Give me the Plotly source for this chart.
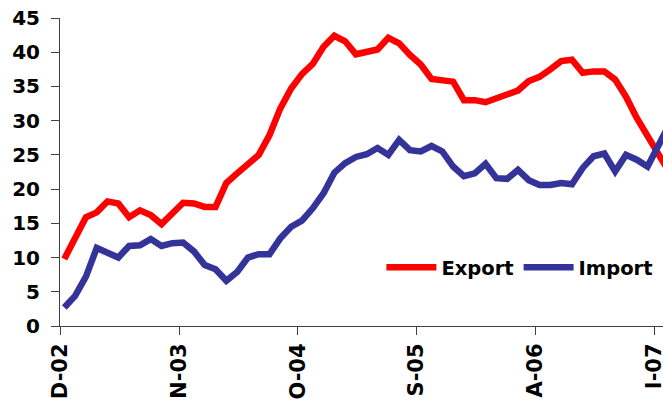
import plotly.graph_objects as go

# Monthly series, Dec 2002 onward
month_index = list(range(57))
export_vals = [9.8, 12.8, 15.9, 16.6, 18.2, 17.9, 15.9, 16.9, 16.2, 14.9,
               16.6, 18.0, 17.9, 17.4, 17.4, 20.9, 22.3, 23.8, 25.0, 27.9,
               31.8, 34.7, 36.8, 38.3, 40.8, 42.4, 41.6, 39.7, 40.0, 40.4,
               42.1, 41.3, 39.6, 38.2, 36.1, 36.0, 35.7, 33.0, 33.0, 32.7,
               33.3, 34.0, 34.4, 35.8, 36.4, 37.5, 38.7, 38.9, 37.0, 37.2,
               37.2, 36.0, 33.5, 30.4, 27.9, 25.0, 22.5]
import_vals = [2.7, 4.4, 7.2, 11.4, 10.7, 10.0, 11.7, 11.8, 12.7, 11.7,
               12.1, 12.2, 10.9, 8.9, 8.3, 6.6, 7.9, 10.0, 10.5, 10.5,
               12.8, 14.5, 15.4, 17.2, 19.4, 22.4, 23.8, 24.7, 25.1, 26.0,
               25.0, 27.2, 25.7, 25.5, 26.3, 25.5, 23.3, 21.9, 22.3, 23.7,
               21.6, 21.5, 22.8, 21.3, 20.6, 20.6, 20.9, 20.7, 23.1, 24.8,
               25.2, 22.6, 25.0, 24.3, 23.3, 26.4, 29.4]
tick_months = [0, 11, 22, 33, 44, 55]
tick_labels = ["D-02", "N-03", "O-04", "S-05", "A-06", "I-07"]
y_ticks = [0, 5, 10, 15, 20, 25, 30, 35, 40, 45]

TICK_SHIFT = -0.38  # ticks sit at category boundaries
FONT = "DejaVu Sans"

fig = go.Figure()
fig.add_trace(go.Scatter(x=month_index, y=export_vals, name="Export", mode="lines",
                         line=dict(color="#FF0000", width=6.5)))
fig.add_trace(go.Scatter(x=month_index, y=import_vals, name="Import", mode="lines",
                         line=dict(color="#333399", width=6.5)))

fig.update_layout(
    width=663, height=402,
    margin=dict(l=60, r=0, t=18, b=76, autoexpand=False),
    plot_bgcolor="white", paper_bgcolor="white",
    font=dict(family=FONT, color="black"),
    showlegend=True,
    legend=dict(orientation="h", x=0.533, y=0.19, xanchor="left", yanchor="middle",
                font=dict(family=FONT, size=19.5, color="black", weight="bold"),
                itemwidth=50, bgcolor="rgba(0,0,0,0)"),
    xaxis=dict(range=[-0.4, 55.43], tickmode="array",
               tickvals=[m + TICK_SHIFT for m in tick_months], ticktext=tick_labels,
               tickangle=-90, ticks="outside", ticklen=8, tickcolor="#404040",
               showline=True, linecolor="#404040", linewidth=1, showgrid=False,
               zeroline=False, automargin=False, ticklabeloverflow="allow",
               tickfont=dict(family=FONT, size=21, color="black", weight="bold")),
    yaxis=dict(range=[0, 45], tickmode="array", tickvals=y_ticks,
               ticks="outside", ticklen=8, tickcolor="#404040",
               showline=True, linecolor="#404040", linewidth=1, showgrid=False,
               zeroline=False, ticklabelstandoff=7, automargin=False,
               tickfont=dict(family=FONT, size=20, color="black", weight="bold")),
)

fig.write_html("out.html", config={"displayModeBar": False},
               post_script="document.body.style.margin='0';")
